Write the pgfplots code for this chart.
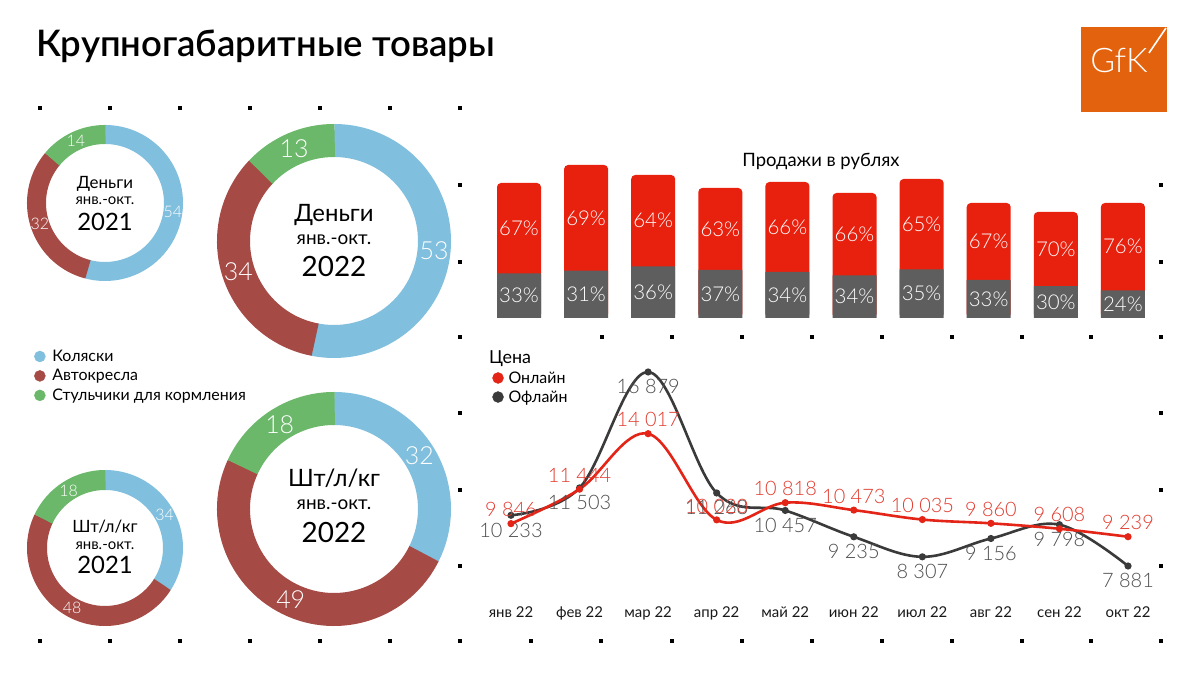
\documentclass[border=0pt]{standalone}
\usepackage{fontspec}
\setmainfont{Lato}
\newfontfamily\lightfont{Lato Light}
\newfontfamily\semifont{Lato Semibold}
\usepackage{pgfplots}
\pgfplotsset{compat=1.18}
\definecolor{cBlue}{HTML}{80BFDD}
\definecolor{cBrown}{HTML}{A54A45}
\definecolor{cGreen}{HTML}{6BB86A}
\definecolor{cBarRed}{HTML}{E8200E}
\definecolor{cBarGrey}{HTML}{5E5E5E}
\definecolor{cLineRed}{HTML}{E32417}
\definecolor{cLineDark}{HTML}{3A3A3A}
\definecolor{cLabRed}{HTML}{E23A2D}
\definecolor{cLabGrey}{HTML}{4D4D4D}
\definecolor{cOrange}{HTML}{E3620E}
\newcommand\fs[1]{\fontsize{#1}{#1}\selectfont}
\begin{document}
\begin{tikzpicture}[x=1bp,y=1bp]
\path[use as bounding box, fill=white] (0,0) rectangle (1200,675);
\coordinate (Pover) at (0,0);
\coordinate (Pbar) at (485.45,357);
\coordinate (Pline) at (476.7,74.9);
% ---------- overlay axis in pixel units ----------
\begin{axis}[at={(Pover)}, anchor=south west, width=1200bp, height=675bp, scale only axis,
  xmin=0, xmax=1200, ymin=0, ymax=675, hide axis, clip=false,
  legend style={draw=none, fill=none, at={(0.0283,0.443)}, anchor=west, font=\fs{16},
    inner sep=0pt, row sep=3.5bp, nodes={inner sep=1.5bp}},
  legend cell align=left]
% decorative dot grid
\addplot[only marks, mark=square*, mark size=1.4bp, black, forget plot] coordinates {
 (40,567) (110,567) (180,567) (250,567) (320,567) (390,567) (460,567)
 (460,490) (460,413) (460,338) (460,262) (460,185) (460,109) (460,34)
 (1161,490) (1161,413) (1161,338) (1161,262) (1161,185) (1161,109) (1161,34)
 (602,338) (672,338) (742,338) (812,338) (882,338) (952,338) (1022,338) (1091,338)
 (40,34) (110,34) (180,34) (250,34) (320,34) (390,34)
 (531,34) (601,34) (672,34) (742,34) (812,34) (882,34) (952,34) (1022,34) (1091,34)};
% legend of the donuts
\addlegendimage{legend image code/.code={\fill[cBlue] (0bp,0bp) circle (5.5bp); \path[draw=none] (11bp,0bp) -- (11bp,0.1bp);}}
\addlegendentry{Коляски}
\addlegendimage{legend image code/.code={\fill[cBrown] (0bp,0bp) circle (5.5bp); \path[draw=none] (11bp,0bp) -- (11bp,0.1bp);}}
\addlegendentry{Автокресла}
\addlegendimage{legend image code/.code={\fill[cGreen] (0bp,0bp) circle (5.5bp); \path[draw=none] (11bp,0bp) -- (11bp,0.1bp);}}
\addlegendentry{Стульчики для кормления}
% ---- donut 1: Деньги 2021 (54 / 32 / 14) ----
\draw[cBlue, line width=19bp] (axis cs:105,472) ++(90:68.5bp) arc[start angle=90, end angle=-104.8, radius=68.5bp];
\draw[cBrown, line width=19bp] (axis cs:105,472) ++(-104.4:68.5bp) arc[start angle=-104.4, end angle=-220, radius=68.5bp];
\draw[cGreen, line width=19bp] (axis cs:105,472) ++(-219.6:68.5bp) arc[start angle=-219.6, end angle=-270.4, radius=68.5bp];
\path (axis cs:105,472) ++(-7.2:68.5bp) node[text=white, font=\lightfont\fs{16}] {54};
\path (axis cs:105,472) ++(-162:68.5bp) node[text=white, font=\lightfont\fs{16}] {32};
\path (axis cs:105,472) ++(-244.8:68.5bp) node[text=white, font=\lightfont\fs{16}] {14};
\node[anchor=base, font=\fs{17}] at (axis cs:105,486) {Деньги};
\node[anchor=base, font=\fs{15}] at (axis cs:105,470) {янв.-окт.};
\node[anchor=base, font=\fs{24}] at (axis cs:105,444) {2021};
% ---- donut 2: Деньги 2022 (53 / 34 / 13) ----
\draw[cBlue, line width=33bp] (axis cs:334,434) ++(90:100.5bp) arc[start angle=90, end angle=-101.2, radius=100.5bp];
\draw[cBrown, line width=33bp] (axis cs:334,434) ++(-100.8:100.5bp) arc[start angle=-100.8, end angle=-223.6, radius=100.5bp];
\draw[cGreen, line width=33bp] (axis cs:334,434) ++(-223.2:100.5bp) arc[start angle=-223.2, end angle=-270.4, radius=100.5bp];
\path (axis cs:334,434) ++(-5.4:100.5bp) node[text=white, font=\lightfont\fs{25}] {53};
\path (axis cs:334,434) ++(-162:100.5bp) node[text=white, font=\lightfont\fs{25}] {34};
\path (axis cs:334,434) ++(-246.6:100.5bp) node[text=white, font=\lightfont\fs{25}] {13};
\node[anchor=base, font=\fs{24}] at (axis cs:334,453) {Деньги};
\node[anchor=base, font=\fs{19}] at (axis cs:334,430) {янв.-окт.};
\node[anchor=base, font=\fs{28}] at (axis cs:334,398) {2022};
% ---- donut 3: Шт 2021 (34 / 48 / 18) ----
\draw[cBlue, line width=20bp] (axis cs:105,127) ++(90:68bp) arc[start angle=90, end angle=-32.8, radius=68bp];
\draw[cBrown, line width=20bp] (axis cs:105,127) ++(-32.4:68bp) arc[start angle=-32.4, end angle=-205.6, radius=68bp];
\draw[cGreen, line width=20bp] (axis cs:105,127) ++(-205.2:68bp) arc[start angle=-205.2, end angle=-270.4, radius=68bp];
\path (axis cs:105,127) ++(28.8:68bp) node[text=white, font=\lightfont\fs{16}] {34};
\path (axis cs:105,127) ++(-118.8:68bp) node[text=white, font=\lightfont\fs{16}] {48};
\path (axis cs:105,127) ++(-237.6:68bp) node[text=white, font=\lightfont\fs{16}] {18};
\node[anchor=base, font=\fs{17}] at (axis cs:105,142) {Шт/л/кг};
\node[anchor=base, font=\fs{15}] at (axis cs:105,125) {янв.-окт.};
\node[anchor=base, font=\fs{24}] at (axis cs:105,101) {2021};
% ---- donut 4: Шт 2022 (32 / 49 / 18) ----
\draw[cBlue, line width=33bp] (axis cs:334,166) ++(90:100.5bp) arc[start angle=90, end angle=-26.8, radius=100.5bp];
\draw[cBrown, line width=33bp] (axis cs:334,166) ++(-26.4:100.5bp) arc[start angle=-26.4, end angle=-205, radius=100.5bp];
\draw[cGreen, line width=33bp] (axis cs:334,166) ++(-204.6:100.5bp) arc[start angle=-204.6, end angle=-270.4, radius=100.5bp];
\path (axis cs:334,166) ++(31.8:100.5bp) node[text=white, font=\lightfont\fs{25}] {32};
\path (axis cs:334,166) ++(-115.5:100.5bp) node[text=white, font=\lightfont\fs{25}] {49};
\path (axis cs:334,166) ++(-237.3:100.5bp) node[text=white, font=\lightfont\fs{25}] {18};
\node[anchor=base, font=\fs{24}] at (axis cs:334,188) {Шт/л/кг};
\node[anchor=base, font=\fs{19}] at (axis cs:334,165) {янв.-окт.};
\node[anchor=base, font=\fs{28}] at (axis cs:334,132) {2022};
% ---- title, logo, line-chart heading ----
\node[anchor=base west, inner sep=0pt, font=\semifont\fs{36.7}] at (axis cs:36,618) {Крупногабаритные товары};
\fill[cOrange] (axis cs:1081,563) rectangle (axis cs:1167,648);
\node[anchor=base, inner sep=0pt, text=white, font=\lightfont\fs{34}] at (axis cs:1119,602) {GfK};
\draw[white, line width=1.6bp] (axis cs:1149,622) -- (axis cs:1166,647);
\node[anchor=base west, inner sep=0pt, font=\fs{18}] at (axis cs:489,311.5) {Цена};
\end{axis}
% ---------- bar chart: Продажи в рублях ----------
\begin{axis}[at={(Pbar)}, anchor=south west, width=671bp, height=160bp, scale only axis,
  xmin=-0.5, xmax=9.5, ymin=0, ymax=160, hide axis, clip=false]
\addplot[ybar, bar width=44bp, fill=cBarRed, draw=none, rounded corners=4bp] coordinates {
 (0,135) (1,153) (2,143) (3,130) (4,136) (5,125) (6,139) (7,115) (8,106) (9,115)};
\addplot[ybar, bar width=44bp, fill=cBarGrey, draw=none] coordinates {
 (0,44.6) (1,47.4) (2,51.5) (3,48.1) (4,46.2) (5,42.5) (6,48.7) (7,38.0) (8,31.8) (9,27.6)};
\addplot[draw=none, nodes near coords, point meta=explicit symbolic,
  every node near coord/.style={anchor=center, text=white, font=\lightfont\fs{20.5}}] coordinates {
 (0,89.8)[67\%] (1,100.2)[69\%] (2,97.25)[64\%] (3,89.05)[63\%] (4,91.1)[66\%]
 (5,83.75)[66\%] (6,93.85)[65\%] (7,76.5)[67\%] (8,68.9)[70\%] (9,71.3)[76\%]};
\addplot[draw=none, nodes near coords, point meta=explicit symbolic,
  every node near coord/.style={anchor=center, text=white, font=\lightfont\fs{20.5}}] coordinates {
 (0,22.3)[33\%] (1,23.7)[31\%] (2,25.75)[36\%] (3,24.05)[37\%] (4,23.1)[34\%]
 (5,21.25)[34\%] (6,24.35)[35\%] (7,19.0)[33\%] (8,15.9)[30\%] (9,13.8)[24\%]};
\node[font=\fs{18.5}] at (axis cs:4.5,157) {Продажи в рублях};
\end{axis}
% ---------- line chart: Цена ----------
\begin{axis}[at={(Pline)}, anchor=south west, width=685.6bp, height=241.5bp, scale only axis,
  xmin=-0.5, xmax=9.5, ymin=6300, ymax=17500, clip=false,
  axis line style={draw=none}, major tick length=0pt, ytick=\empty,
  xtick={0,...,9},
  xticklabels={янв 22, фев 22, мар 22, апр 22, май 22, июн 22, июл 22, авг 22, сен 22, окт 22},
  xticklabel style={font=\fs{15}, text=black!90, yshift=-3bp},
  legend style={draw=none, fill=none, at={(0.0225,0.8803)}, anchor=west, font=\fs{16},
    inner sep=0pt, row sep=3bp, nodes={inner sep=1.5bp}},
  legend cell align=left]
\addlegendimage{legend image code/.code={\fill[cLineRed] (0bp,0bp) circle (5.5bp); \path[draw=none] (9bp,0bp) -- (9bp,0.1bp);}}
\addlegendentry{Онлайн}
\addlegendimage{legend image code/.code={\fill[cLineDark] (0bp,0bp) circle (5.5bp); \path[draw=none] (9bp,0bp) -- (9bp,0.1bp);}}
\addlegendentry{Офлайн}
\addplot[forget plot, cLineDark, line width=2.6bp, smooth, tension=0.6, mark=*, mark size=2.2bp,
  nodes near coords, point meta=explicit symbolic,
  every node near coord/.style={anchor=north, yshift=-3bp, text=cLabGrey, font=\lightfont\fs{20}}] coordinates {
 (0,10233)[10 233] (1,11503)[11 503] (2,16879)[16 879] (3,11268)[11 268] (4,10457)[10 457]
 (5,9235)[9 235] (6,8307)[8 307] (7,9156)[9 156] (8,9798)[9 798] (9,7881)[7 881]};
\addplot[forget plot, cLineRed, line width=2.6bp, smooth, tension=0.6, mark=*, mark size=2.2bp,
  nodes near coords, point meta=explicit symbolic,
  every node near coord/.style={anchor=south, yshift=2bp, text=cLabRed, font=\lightfont\fs{20}}] coordinates {
 (0,9846)[9 846] (1,11444)[11 444] (2,14017)[14 017] (3,10020)[10 020] (4,10818)[10 818]
 (5,10473)[10 473] (6,10035)[10 035] (7,9860)[9 860] (8,9608)[9 608] (9,9239)[9 239]};
\end{axis}
\end{tikzpicture}
\end{document}
